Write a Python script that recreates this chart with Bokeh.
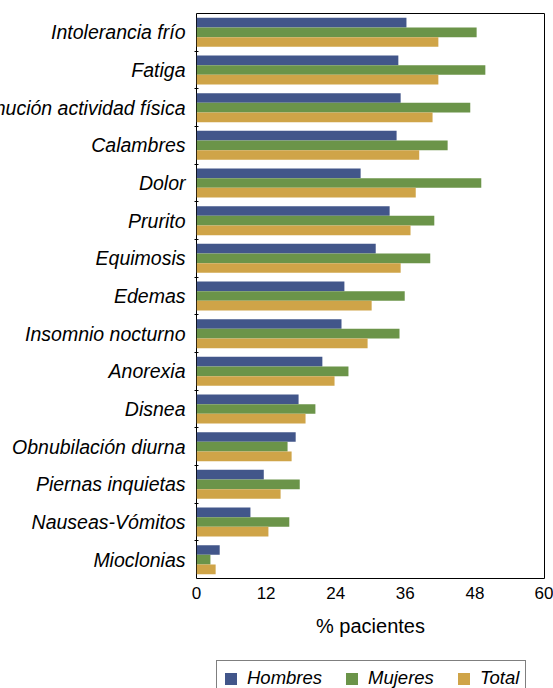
from bokeh.plotting import figure
from bokeh.layouts import column
from bokeh.models import (Range1d, FixedTicker, Legend, LegendItem, ColumnDataSource)
from bokeh.transform import dodge
from bokeh.embed import file_html
from bokeh.resources import INLINE

categories = ["Intolerancia frío", "Fatiga", "Disminución actividad física",
              "Calambres", "Dolor", "Prurito", "Equimosis", "Edemas",
              "Insomnio nocturno", "Anorexia", "Disnea", "Obnubilación diurna",
              "Piernas inquietas", "Nauseas-Vómitos", "Mioclonias"]
hombres = [36.2, 34.8, 35.2, 34.5, 28.3, 33.3, 30.9, 25.5, 25.0, 21.7, 17.6, 17.1, 11.6, 9.3, 4.0]
mujeres = [48.3, 49.8, 47.2, 43.3, 49.1, 41.0, 40.3, 35.9, 35.0, 26.2, 20.5, 15.7, 17.8, 16.0, 2.4]
total = [41.7, 41.7, 40.7, 38.4, 37.8, 36.9, 35.2, 30.2, 29.5, 23.8, 18.8, 16.4, 14.5, 12.4, 3.3]
x_ticks = [0, 12, 24, 36, 48, 60]
series_names = ["Hombres", "Mujeres", "Total"]

colors = ["#42568a", "#6b9449", "#cfa448"]
FONT = "Liberation Sans"

n = len(categories)
ypos = [n - 1 - i for i in range(n)]          # row position, first category on top
src = ColumnDataSource(dict(cat=categories, ypos=ypos,
                            Hombres=hombres, Mujeres=mujeres, Total=total))

p = figure(width=619, height=650,
           y_range=Range1d(-0.5, n - 0.5),
           x_range=Range1d(0, 60),
           output_backend="svg", toolbar_location=None,
           min_border_left=262, min_border_right=9,
           min_border_top=13, min_border_bottom=72)
p.grid.visible = False
p.outline_line_color = "black"
p.outline_line_width = 1
p.background_fill_color = "white"

bh = 0.257
offsets = [bh, 0.0, -bh]
for name, off, col in zip(series_names, offsets, colors):
    p.hbar(y=dodge("ypos", off), right=name, left=0,
           height=bh, source=src, fill_color=col, line_color=None)

# x axis
xa = p.xaxis[0]
xa.ticker = FixedTicker(ticks=x_ticks)
xa.major_tick_in = 0
xa.major_tick_out = 0
xa.minor_tick_in = 0
xa.minor_tick_out = 0
xa.axis_line_color = None
xa.major_label_standoff = 8
xa.major_label_text_font = FONT
xa.major_label_text_font_size = "17px"
xa.major_label_text_color = "black"
xa.axis_label = "% pacientes"
xa.axis_label_text_font = FONT
xa.axis_label_text_font_style = "normal"
xa.axis_label_text_font_size = "20px"
xa.axis_label_text_color = "black"
xa.axis_label_standoff = 13

# y axis: labels at row centres, small ticks at row boundaries
ya = p.yaxis[0]
ya.ticker = FixedTicker(ticks=ypos, minor_ticks=[y + 0.5 for y in range(n - 1)])
ya.major_label_overrides = {y: c for y, c in zip(ypos, categories)}
ya.major_tick_in = 0
ya.major_tick_out = 0
ya.minor_tick_in = 2
ya.minor_tick_out = 2
ya.minor_tick_line_color = "black"
ya.axis_line_color = None
ya.major_label_standoff = 9
ya.major_label_text_font = FONT
ya.major_label_text_font_style = "italic"
ya.major_label_text_font_size = "19.5px"
ya.major_label_text_color = "black"

# legend strip underneath (key glyphs sit outside the strip's visible range)
lg = figure(width=619, height=38, x_range=Range1d(0, 1), y_range=Range1d(0, 1),
            output_backend="svg", toolbar_location=None,
            x_axis_location=None, y_axis_location=None, min_border=0)
lg.grid.visible = False
lg.outline_line_color = None
keys = []
for col in colors:
    keys.append(lg.hbar(y=[-10], right=[1], left=0, height=0.5,
                        fill_color=col, line_color=None))

legend = Legend(items=[LegendItem(label=s, renderers=[r]) for s, r in zip(series_names, keys)],
                orientation="horizontal", location=(20, -8),
                glyph_width=15, glyph_height=15, label_standoff=9,
                spacing=22, padding=6, margin=0,
                border_line_color="black", border_line_width=1,
                label_text_font=FONT, label_text_font_style="italic",
                label_text_font_size="18.5px", label_text_color="black")
lg.add_layout(legend, "center")

layout = column(p, lg, spacing=0, styles={"position": "relative", "left": "-66px"})

open("out.html", "w").write(file_html(layout, INLINE))
